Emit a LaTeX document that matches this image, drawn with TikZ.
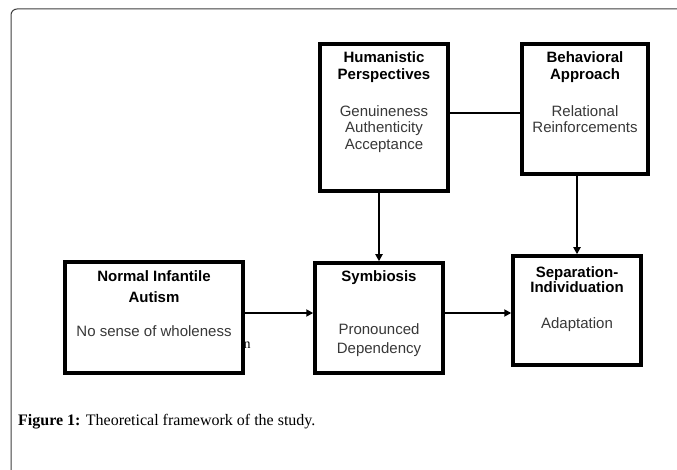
\documentclass[tikz,border=0pt]{standalone}
\usepackage{fontspec}
\setmainfont{Liberation Serif}
\setsansfont{Liberation Sans}
\usetikzlibrary{arrows.meta}
\begin{document}
\begin{tikzpicture}[x=1pt,y=-1pt,
  box/.style={draw=black,line width=3.5pt,fill=white,rectangle,inner sep=0pt,minimum width=#1},
  ttl/.style={anchor=base,font=\sffamily\fontsize{15}{17}\selectfont\bfseries,text=black,inner sep=0pt},
  bdy/.style={anchor=base,font=\sffamily\fontsize{15}{17}\selectfont,text=black!78,inner sep=0pt},
  conn/.style={line width=2.6pt,black},
  arr/.style={conn,-{Triangle[length=7pt,width=7pt]}}]
\useasboundingbox (0,0) rectangle (677,470);
\fill[white] (0,0) rectangle (677,470);
% outer frame
\coordinate (fbl) at (11,475);
\coordinate (ftl) at (11,9);
\coordinate (ftr) at (682,9);
\draw[line width=1pt,black!75,rounded corners=6pt] (fbl) -- (ftl) -- (ftr);
% stray glyph
\node[anchor=base,font=\fontsize{14}{16}\selectfont,inner sep=0pt] (stray) at (247,348) {n};
% boxes
\node[box=128,minimum height=147] (hum) at (384,117.5) {};
\node[box=126,minimum height=130] (beh) at (585,109) {};
\node[box=178,minimum height=111] (ni) at (154,317.5) {};
\node[box=128,minimum height=110] (sym) at (379,318) {};
\node[box=128,minimum height=109] (sep) at (577,310.5) {};
% texts
\node[ttl] (h1) at (384,63) {Humanistic};
\node[ttl] (h2) at (384,80) {Perspectives};
\node[bdy] (h3) at (384,117) {Genuineness};
\node[bdy] (h4) at (384,133) {Authenticity};
\node[bdy] (h5) at (384,150) {Acceptance};
\node[ttl] (b1) at (585,63) {Behavioral};
\node[ttl] (b2) at (585,80) {Approach};
\node[bdy] (b3) at (585,117) {Relational};
\node[bdy] (b4) at (585,133) {Reinforcements};
\node[ttl] (n1) at (154,282) {Normal Infantile};
\node[ttl] (n2) at (154,302) {Autism};
\node[bdy] (n3) at (154,336) {No sense of wholeness};
\node[ttl] (s1) at (379,282) {Symbiosis};
\node[bdy] (s2) at (379,334) {Pronounced};
\node[bdy] (s3) at (379,353) {Dependency};
\node[ttl] (p1) at (577,277) {Separation-};
\node[ttl] (p2) at (577,293) {Individuation};
\node[bdy] (p3) at (577,328) {Adaptation};
% connectors
\coordinate (mid) at (0,113);
\coordinate (row) at (0,313);
\draw[conn] (hum.east |- mid) -- (beh.west |- mid);
\draw[arr] (sym.north |- hum.south) -- (sym.north);
\draw[arr] (sep.north |- beh.south) -- (sep.north);
\draw[arr] (ni.east |- row) -- (sym.west |- row);
\draw[arr] (sym.east |- row) -- (sep.west |- row);
% caption
\node[anchor=base west,inner sep=0pt,font=\fontsize{16}{19}\selectfont] (cap) at (18,425) {\textbf{Figure 1:} Theoretical framework of the study.};
\end{tikzpicture}
\end{document}
